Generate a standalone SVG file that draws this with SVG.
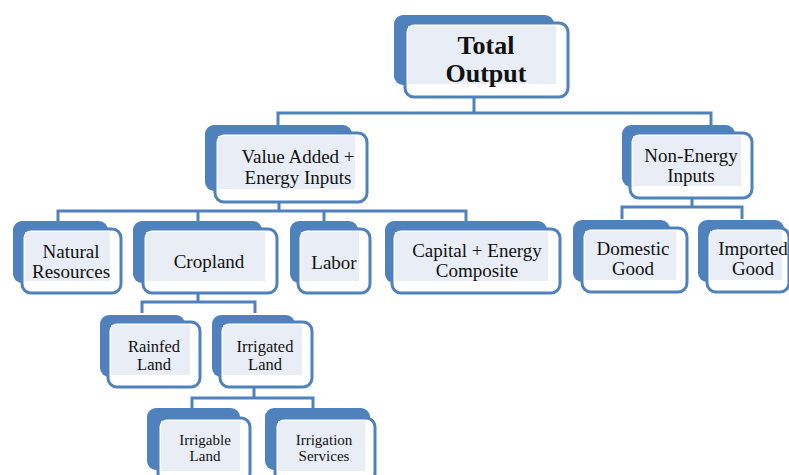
<svg xmlns="http://www.w3.org/2000/svg" width="789" height="475" viewBox="0 0 789 475">
<style>
.back{fill:#4f81bd}
.front{fill:#ffffff;stroke:#4f81bd;stroke-width:3}
.inner{fill:#e9eef6}
.conn{fill:none;stroke:#4f81bd;stroke-width:3}
text{font-family:"Liberation Serif","Times New Roman",serif;fill:#111;text-anchor:middle}
.t1{font-size:26px;font-weight:bold}
.t2{font-size:19px}
.t3{font-size:19px}
.t4{font-size:16.5px}
.t5{font-size:15px}
</style>
<rect width="789" height="475" fill="#ffffff"/>
<g id="connectors">
<path class="conn" d="M474 97V113M278 126V113H711V126"/>
<path class="conn" d="M279 202V211M58 221V211H466V221M198 211V221M324 211V221"/>
<path class="conn" d="M692 198V207M622 219V207H742V219"/>
<path class="conn" d="M198 293V302M142 313V302H255V313"/>
<path class="conn" d="M254 387V398M192 408V398H313V408"/>
</g>
<g id="total-output">
<rect class="back" x="394" y="15" width="160" height="70" rx="9"/>
<rect class="front" x="405" y="23" width="163" height="74" rx="9"/>
<rect class="inner" x="408" y="26" width="148" height="58"/>
<text class="t1" x="486" y="54">Total</text>
<text class="t1" x="486" y="82">Output</text>
</g>
<g id="value-added">
<rect class="back" x="205" y="125" width="147" height="66" rx="9"/>
<rect class="front" x="215" y="133" width="152" height="69" rx="9"/>
<rect class="inner" x="218" y="136" width="137" height="53"/>
<text class="t2" x="298" y="163">Value Added +</text>
<text class="t2" x="298" y="184">Energy Inputs</text>
</g>
<g id="non-energy">
<rect class="back" x="622" y="125" width="113" height="62" rx="9"/>
<rect class="front" x="630" y="133" width="122" height="65" rx="9"/>
<rect class="inner" x="633" y="136" width="108" height="50"/>
<text class="t2" x="691" y="162">Non-Energy</text>
<text class="t2" x="691" y="182">Inputs</text>
</g>
<g id="natural-resources">
<rect class="back" x="13" y="221" width="95" height="62" rx="9"/>
<rect class="front" x="22" y="229" width="99" height="64" rx="9"/>
<rect class="inner" x="25" y="232" width="85" height="49"/>
<text class="t3" x="71" y="258">Natural</text>
<text class="t3" x="71" y="278">Resources</text>
</g>
<g id="cropland">
<rect class="back" x="133" y="221" width="129" height="62" rx="9"/>
<rect class="front" x="143" y="229" width="134" height="64" rx="9"/>
<rect class="inner" x="146" y="232" width="119" height="49"/>
<text class="t3" x="209" y="268">Cropland</text>
</g>
<g id="labor">
<rect class="back" x="290" y="221" width="68" height="62" rx="9"/>
<rect class="front" x="298" y="229" width="72" height="64" rx="9"/>
<rect class="inner" x="301" y="232" width="58" height="49"/>
<text class="t3" x="334" y="269">Labor</text>
</g>
<g id="capital-energy">
<rect class="back" x="385" y="221" width="162" height="62" rx="9"/>
<rect class="front" x="392" y="229" width="168" height="64" rx="9"/>
<rect class="inner" x="395" y="232" width="153" height="49"/>
<text class="t3" x="477" y="257">Capital + Energy</text>
<text class="t3" x="477" y="277">Composite</text>
</g>
<g id="domestic-good">
<rect class="back" x="573" y="220" width="97" height="62" rx="9"/>
<rect class="front" x="582" y="228" width="105" height="64" rx="9"/>
<rect class="inner" x="585" y="231" width="91" height="49"/>
<text class="t3" x="633" y="255">Domestic</text>
<text class="t3" x="633" y="275">Good</text>
</g>
<g id="imported-good">
<rect class="back" x="698" y="220" width="86" height="62" rx="9"/>
<rect class="front" x="707" y="228" width="82" height="64" rx="9"/>
<rect class="inner" x="710" y="231" width="72" height="49"/>
<text class="t3" x="753" y="255">Imported</text>
<text class="t3" x="753" y="275">Good</text>
</g>
<g id="rainfed-land">
<rect class="back" x="100" y="315" width="85" height="62" rx="9"/>
<rect class="front" x="108" y="322" width="92" height="65" rx="9"/>
<rect class="inner" x="111" y="325" width="79" height="50"/>
<text class="t4" x="154" y="352">Rainfed</text>
<text class="t4" x="154" y="370">Land</text>
</g>
<g id="irrigated-land">
<rect class="back" x="212" y="315" width="83" height="62" rx="9"/>
<rect class="front" x="220" y="322" width="92" height="65" rx="9"/>
<rect class="inner" x="223" y="325" width="79" height="50"/>
<text class="t4" x="265" y="352">Irrigated</text>
<text class="t4" x="265" y="370">Land</text>
</g>
<g id="irrigable-land">
<rect class="back" x="147" y="408" width="93" height="62" rx="9"/>
<rect class="front" x="158" y="418" width="92" height="64" rx="9"/>
<rect class="inner" x="161" y="421" width="79" height="50"/>
<text class="t5" x="205" y="445">Irrigable</text>
<text class="t5" x="205" y="461">Land</text>
</g>
<g id="irrigation-services">
<rect class="back" x="265" y="408" width="105" height="62" rx="9"/>
<rect class="front" x="275" y="418" width="100" height="64" rx="9"/>
<rect class="inner" x="278" y="421" width="87" height="50"/>
<text class="t5" x="324" y="445">Irrigation</text>
<text class="t5" x="324" y="461">Services</text>
</g>
</svg>
